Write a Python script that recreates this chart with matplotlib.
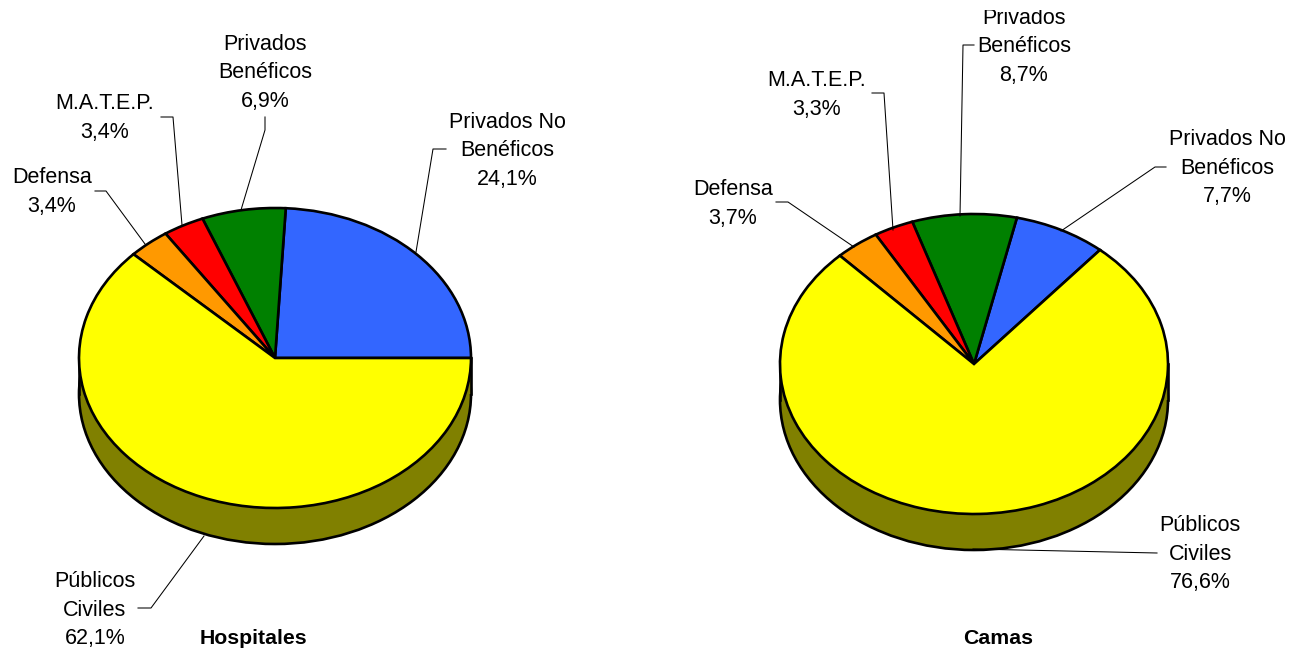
import matplotlib
matplotlib.use("Agg")
import matplotlib.pyplot as plt
from matplotlib.patches import Ellipse, Rectangle
from matplotlib.transforms import Bbox

plt.rcParams['font.family'] = ['Liberation Sans', 'DejaVu Sans']

W, H = 1292, 653
names = ["Privados No\nBenéficos", "Privados\nBenéficos", "M.A.T.E.P.", "Defensa", "Públicos\nCiviles"]
hospitales = [24.1, 6.9, 3.4, 3.4, 62.1]
camas = [7.7, 8.7, 3.3, 3.7, 76.6]
colors = ["#3366FF", "#008000", "#FF0000", "#FF9900", "#FFFF00"]
side_color = "#808000"

fig = plt.figure(figsize=(W / 100, H / 100), dpi=100, facecolor="white")
EDGE = 1.9


def draw_pie(values, cx, cy, rx, ry, depth, start):
    m = 1.3
    ax = fig.add_axes([(cx - m * rx) / W, 1 - (cy + depth + m * ry) / H,
                       2 * m * rx / W, (2 * m * ry + depth) / H])
    d = depth / ry
    ax.add_patch(Ellipse((0, -d), 2, 2, fc=side_color, ec="black", lw=EDGE, zorder=1))
    ax.add_patch(Rectangle((-1, -d), 2, d, fc=side_color, ec="none", zorder=1.1))
    ax.plot([-1, -1], [-d, 0], color="black", lw=EDGE, zorder=1.2)
    ax.plot([1, 1], [-d, 0], color="black", lw=EDGE, zorder=1.2)
    wedges, _ = ax.pie(values, colors=colors, startangle=start, counterclock=True,
                       wedgeprops=dict(edgecolor="black", linewidth=EDGE))
    for w in wedges:
        w.set_zorder(2)
    ax.set_aspect("auto")
    ax.set_xlim(-m, m)
    ax.set_ylim(-m - d, m)
    ax.axis("off")


draw_pie(hospitales, 275, 358, 196, 150, 36, 0)
draw_pie(camas, 974, 364, 194, 150, 36, 49.5)

ov = fig.add_axes([0, 0, 1, 1], zorder=5)
ov.set_xlim(0, W)
ov.set_ylim(H, 0)
ov.axis("off")
ov.patch.set_alpha(0)

clip = Bbox([[0, 0], [W, H - 10]])


def fmt(name, v):
    return name + "\n" + f"{v:.1f}".replace(".", ",") + "%"


FS = 15.5
LS = 1.44
left_pos = [(507, 151), (265, 73), (105, 118), (52, 192), (95, 610)]
right_pos = [(1227, 168), (1024, 47), (817, 95), (733, 204), (1200, 554)]
for vals, pos in ((hospitales, left_pos), (camas, right_pos)):
    for n, v, (x, y) in zip(names, vals, pos):
        t = ov.text(x, y, fmt(n, v), ha="center", va="center", fontsize=FS,
                    linespacing=LS, color="black", multialignment="center")
        t.set_clip_on(True)
        t.set_clip_box(clip)

ov.text(253, 638, "Hospitales", ha="center", va="center", fontsize=15.3, fontweight="bold")
ov.text(998, 639, "Camas", ha="center", va="center", fontsize=15.3, fontweight="bold")

leaders = [
    [(446, 149), (433, 149), (416, 252)],
    [(265, 117), (265, 130), (241, 210)],
    [(161, 117), (173, 117), (182, 225)],
    [(95, 191), (106, 191), (145, 244)],
    [(138, 608), (151, 608), (204, 536)],
    [(1166, 167), (1155, 167), (1061, 231)],
    [(974, 45), (963, 45), (960, 216)],
    [(872, 93), (884, 93), (893, 230)],
    [(776, 202), (788, 202), (854, 247)],
    [(1157, 553), (973, 549)],
]
for pts in leaders:
    xs, ys = zip(*pts)
    ov.plot(xs, ys, color="black", lw=0.75)

fig.savefig("out.png", dpi=100, facecolor="white")
